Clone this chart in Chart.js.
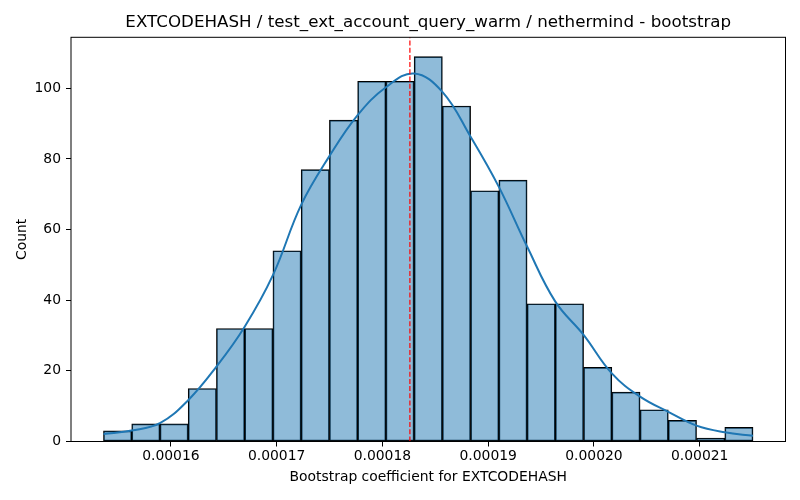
<!DOCTYPE html>
<html>
<head>
<meta charset="utf-8">
<script src="https://cdn.jsdelivr.net/npm/chart.js@4.4.1/dist/chart.umd.min.js"></script>
<style>
  html, body { margin: 0; padding: 0; background: #fff; }
</style>
</head>
<body>
<canvas id="hist" width="800" height="500"></canvas>
<script>
// histogram bin edges (24 edges -> 23 bins)
const binEdges = [
  0.00015363, 0.00015630, 0.00015897, 0.00016164, 0.00016431, 0.00016698,
  0.00016965, 0.00017232, 0.00017499, 0.00017766, 0.00018033, 0.00018300,
  0.00018567, 0.00018834, 0.00019101, 0.00019368, 0.00019635, 0.00019902,
  0.00020169, 0.00020436, 0.00020703, 0.00020970, 0.00021237, 0.00021504
];
const counts = [3, 5, 5, 15, 32, 32, 54, 77, 91, 102, 102, 109, 95, 71, 74, 39, 39, 21, 14, 9, 6, 1, 4];
// kde curve read at each bin edge
const kdeValues = [
  2.1, 3.1, 5.2, 11.7, 21.2, 32.5, 47.1, 67.0, 80.8, 92.4, 100.3, 104.2,
  99.0, 86.3, 72.1, 55.2, 39.6, 30.2, 19.3, 12.7, 8.4, 4.5, 2.6, 1.6
];
const meanValue = 0.0001826;
const xTicks = [0.00016, 0.00017, 0.00018, 0.00019, 0.00020, 0.00021];
const yTicks = [0, 20, 40, 60, 80, 100];
const xRange = [0.00015056, 0.00021811];
const yRange = [0, 114.45];
const titleText = "EXTCODEHASH / test_ext_account_query_warm / nethermind - bootstrap";

const barData = counts.map((c, i) => ({ x: (binEdges[i] + binEdges[i + 1]) / 2, y: c }));
const kdeData = kdeValues.map((v, i) => ({ x: binEdges[i], y: v }));

Chart.defaults.font.family = "'DejaVu Sans', sans-serif";
Chart.defaults.color = "#000";

// frame around the plot + title centred over the axes (matplotlib style)
const boxPlugin = {
  id: "box",
  afterDraw(chart) {
    const { ctx, chartArea: a } = chart;
    ctx.save();
    ctx.strokeStyle = "#000";
    ctx.lineWidth = 1;
    ctx.strokeRect(a.left, a.top, a.right - a.left, a.bottom - a.top);
    ctx.fillStyle = "#000";
    ctx.font = "16.7px 'DejaVu Sans', sans-serif";
    ctx.textAlign = "center";
    ctx.textBaseline = "middle";
    ctx.fillText(titleText, (a.left + a.right) / 2, 23);
    ctx.restore();
  }
};

const ctx = document.getElementById("hist").getContext("2d");
new Chart(ctx, {
  type: "bar",
  data: {
    datasets: [
      {
        type: "line",
        data: [{ x: meanValue, y: yRange[0] }, { x: meanValue, y: yRange[1] }],
        borderColor: "red",
        borderWidth: 1.2,
        borderDash: [5, 2.2],
        pointRadius: 0,
        order: 1
      },
      {
        type: "line",
        data: kdeData,
        borderColor: "#1f77b4",
        borderWidth: 2,
        pointRadius: 0,
        tension: 0.4,
        order: 2
      },
      {
        type: "bar",
        data: barData,
        backgroundColor: "rgba(31, 119, 180, 0.5)",
        borderColor: "#000",
        borderWidth: 1,
        borderSkipped: false,
        barPercentage: 1,
        categoryPercentage: 1,
        order: 3
      }
    ]
  },
  options: {
    responsive: false,
    animation: false,
    layout: { padding: { left: 0, right: 14.5, top: 37.3, bottom: 0 } },
    plugins: {
      legend: { display: false },
      tooltip: { enabled: false },
      title: { display: false }
    },
    scales: {
      x: {
        type: "linear",
        offset: false,
        min: xRange[0],
        max: xRange[1],
        afterBuildTicks: (scale) => { scale.ticks = xTicks.map((v) => ({ value: v })); },
        afterFit: (scale) => { scale.height = 58.5; },
        grid: { offset: false, drawOnChartArea: false, drawTicks: true, tickLength: 5, color: "#000" },
        border: { display: false },
        ticks: {
          font: { size: 13.9 },
          padding: 2,
          maxRotation: 0,
          callback: (v) => v.toFixed(5)
        },
        title: {
          display: true,
          text: "Bootstrap coefficient for EXTCODEHASH",
          font: { size: 13.9 },
          padding: { top: 0, bottom: 14.7 }
        }
      },
      y: {
        min: yRange[0],
        max: yRange[1],
        afterBuildTicks: (scale) => { scale.ticks = yTicks.map((v) => ({ value: v })); },
        afterFit: (scale) => { scale.width = 71; },
        grid: { drawOnChartArea: false, drawTicks: true, tickLength: 5, color: "#000" },
        border: { display: false },
        ticks: { font: { size: 13.9 }, padding: 5 },
        title: {
          display: true,
          text: "Count",
          font: { size: 13.9 },
          padding: { top: 13.7, bottom: 0 }
        }
      }
    }
  },
  plugins: [boxPlugin]
});
</script>
</body>
</html>
